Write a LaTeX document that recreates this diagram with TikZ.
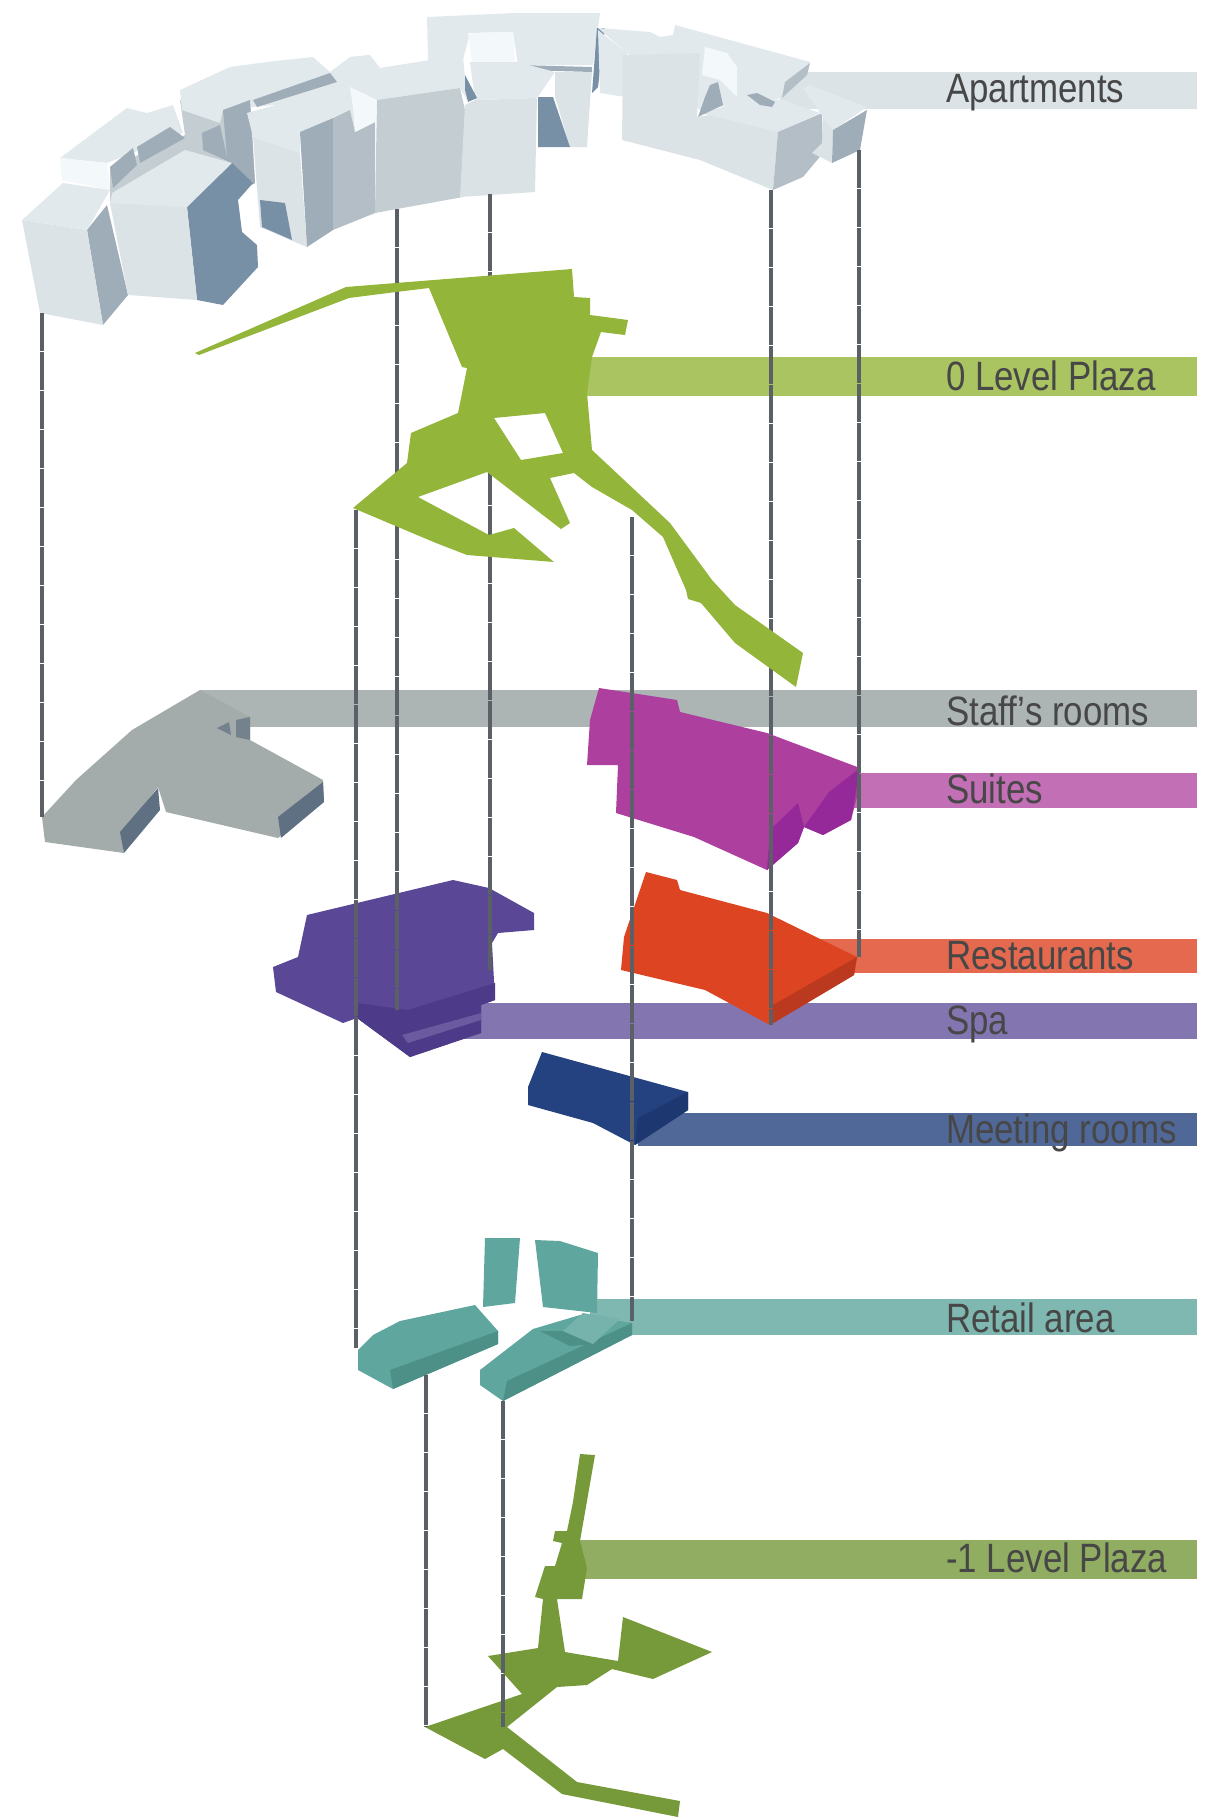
\documentclass[tikz,border=0pt]{standalone}
\usepackage{fontspec}
\setmainfont[FakeStretch=0.85]{Liberation Sans}
\definecolor{aptTop}{HTML}{E1E9ED}
\definecolor{aptFace}{HTML}{DCE3E6}
\definecolor{aptMid}{HTML}{C3CDD2}
\definecolor{aptGrey}{HTML}{B3BEC6}
\definecolor{aptShade}{HTML}{9FADB9}
\definecolor{aptDark}{HTML}{7890A6}
\definecolor{aptGlow}{HTML}{F3F8FA}
\definecolor{plazaTop}{HTML}{93B53A}
\definecolor{plazaLow}{HTML}{76993A}
\definecolor{staffTop}{HTML}{A3ACAB}
\definecolor{staffSide}{HTML}{5F7082}
\definecolor{suiteTop}{HTML}{AD3F9E}
\definecolor{suiteSide}{HTML}{96299A}
\definecolor{restTop}{HTML}{DD4422}
\definecolor{restSide}{HTML}{BB3A1F}
\definecolor{spaTop}{HTML}{5A4795}
\definecolor{spaSide}{HTML}{4D3A88}
\definecolor{meetTop}{HTML}{24427F}
\definecolor{meetSide}{HTML}{1D3870}
\definecolor{retailTop}{HTML}{5FA69E}
\definecolor{retailSide}{HTML}{4D9088}
\definecolor{riserGrey}{HTML}{5B5F66}
\begin{document}
\begin{tikzpicture}[x=1pt, y=-1pt,
    tag/.style={anchor=base west, inner sep=0pt, text=black!72, font=\fontsize{41}{41}\selectfont},
    riser/.style={draw=riserGrey, line width=3.5pt, dash pattern=on 38pt off 1pt}]
    \useasboundingbox (0,0) rectangle (1208,1820);

    % Bandes
    \fill[aptFace] (780,72) rectangle (1197,109);
    \fill[plazaTop!80!white] (580,357) rectangle (1197,396);
    \fill[staffTop!90!white] (200,690) rectangle (1197,727);
    \fill[suiteTop!75!white] (820,773) rectangle (1197,808);
    \fill[restTop!80!white] (800,939) rectangle (1197,973);
    \fill[spaTop!75!white] (447,1003) rectangle (1197,1039);
    \fill[meetTop!80!white] (638,1113) rectangle (1197,1146);
    \fill[retailTop!80!white] (590,1299) rectangle (1197,1335);
    \fill[plazaLow!80!white] (575,1540) rectangle (1197,1579);

    % Apartments, centre arriere
    \fill[aptTop] (427,17) -- (515,13) -- (600,13) -- (593,65) -- (518,65) -- (513,32) -- (470,33) -- (463,60) -- (428,60) -- cycle;
    \fill[aptGlow] (468,33) -- (513,32) -- (515,62) -- (472,62) -- cycle;
    \fill[aptDark] (597,28) -- (605,28) -- (598,87) -- (592,93) -- cycle;
    \fill[aptShade] (518,65) -- (592,67) -- (592,72) -- (520,70) -- cycle;
    \fill[aptFace] (555,72) -- (592,72) -- (587,147) -- (570,147) -- (555,97) -- cycle;
    \fill[aptDark] (538,97) -- (553,97) -- (570,147) -- (538,147) -- cycle;

    % Apartments, droite
    \fill[aptTop] (598,30) -- (627,53) -- (625,97) -- (600,93) -- cycle;
    \fill[aptTop] (598,28) -- (650,32) -- (660,37) -- (673,35) -- (675,25) -- (810,62) -- (807,75) -- (782,98) -- (700,110) -- (627,53) -- cycle;
    \fill[aptGrey] (785,82) -- (810,63) -- (807,75) -- (782,98) -- cycle;
    \fill[aptFace] (623,55) -- (700,53) -- (697,117) -- (743,110) -- (778,132) -- (773,190) -- (700,160) -- (622,140) -- cycle;
    \fill[aptGlow] (705,47) -- (727,53) -- (737,67) -- (737,97) -- (720,80) -- (702,75) -- cycle;
    \fill[aptTop] (700,113) -- (723,107) -- (747,97) -- (783,100) -- (820,113) -- (778,132) -- cycle;
    \fill[aptShade] (710,85) -- (718,82) -- (723,105) -- (698,117) -- (705,97) -- cycle;
    \fill[aptShade] (747,95) -- (757,93) -- (775,102) -- (772,107) -- (760,105) -- cycle;
    \fill[aptGrey] (778,132) -- (822,113) -- (823,153) -- (803,177) -- (773,190) -- cycle;
    \fill[aptTop] (803,88) -- (810,85) -- (867,107) -- (833,130) -- (823,117) -- cycle;
    \fill[aptFace] (823,117) -- (833,130) -- (832,163) -- (812,153) -- (822,143) -- cycle;
    \fill[aptShade] (833,130) -- (867,110) -- (860,150) -- (832,163) -- cycle;

    % Apartments, gauche
    \fill[aptMid] (110,167) -- (185,135) -- (180,100) -- (250,100) -- (255,183) -- (232,195) -- (187,207) -- (110,203) -- cycle;
    \fill[aptTop] (180,90) -- (230,67) -- (267,62) -- (313,57) -- (330,72) -- (350,57) -- (370,55) -- (350,98) -- (253,107) -- (223,110) -- (220,123) -- (182,110) -- cycle;
    \fill[aptShade] (253,100) -- (330,73) -- (337,82) -- (257,107) -- cycle;
    \fill[aptGrey] (332,92) -- (350,88) -- (350,98) -- (333,98) -- cycle;
    \fill[aptShade] (223,110) -- (250,100) -- (255,183) -- (232,195) -- (227,157) -- cycle;
    \fill[aptShade] (202,133) -- (220,125) -- (227,157) -- (232,163) -- (203,150) -- cycle;
    \fill[aptTop] (60,158) -- (127,108) -- (147,113) -- (173,105) -- (183,133) -- (107,163) -- cycle;
    \fill[aptGlow] (60,158) -- (107,163) -- (110,190) -- (62,180) -- cycle;
    \fill[aptShade] (110,167) -- (133,148) -- (137,165) -- (113,188) -- cycle;
    \fill[aptShade] (137,147) -- (170,127) -- (185,138) -- (140,163) -- cycle;

    % Apartments, long corps
    \fill[aptTop] (247,113) -- (330,90) -- (353,70) -- (352,57) -- (370,55) -- (380,68) -- (430,60) -- (463,57) -- (467,100) -- (460,88) -- (377,100) -- (375,122) -- (355,132) -- (350,110) -- (300,132) -- (300,153) -- (253,137) -- cycle;
    \fill[aptFace] (253,137) -- (300,153) -- (307,247) -- (290,240) -- (260,227) -- cycle;
    \fill[aptDark] (260,200) -- (285,203) -- (292,240) -- (262,227) -- cycle;
    \fill[aptShade] (300,132) -- (333,118) -- (333,230) -- (307,247) -- cycle;
    \fill[aptGrey] (333,118) -- (350,110) -- (355,132) -- (375,122) -- (375,213) -- (333,230) -- cycle;
    \fill[aptMid] (377,100) -- (460,88) -- (465,110) -- (463,197) -- (375,213) -- cycle;
    \fill[aptFace!95!aptMid] (465,105) -- (475,100) -- (537,98) -- (535,192) -- (460,197) -- cycle;
    \fill[aptTop] (470,62) -- (517,62) -- (555,72) -- (537,98) -- (475,100) -- cycle;
    \fill[aptDark] (465,75) -- (477,98) -- (468,102) -- (465,90) -- cycle;
    \fill[aptGlow] (350,87) -- (377,100) -- (375,122) -- (355,132) -- (353,107) -- cycle;

    % Apartments, tours avant
    \fill[aptShade] (87,230) -- (107,205) -- (128,295) -- (103,325) -- cycle;
    \fill[aptFace] (22,220) -- (87,230) -- (103,325) -- (40,313) -- cycle;
    \fill[aptTop] (22,220) -- (63,183) -- (110,190) -- (87,230) -- cycle;
    \fill[aptDark] (187,207) -- (232,163) -- (253,183) -- (238,200) -- (242,232) -- (257,245) -- (258,267) -- (223,305) -- (197,300) -- cycle;
    \fill[aptFace] (110,203) -- (187,207) -- (197,300) -- (128,295) -- cycle;
    \fill[aptTop] (110,203) -- (112,193) -- (185,150) -- (232,163) -- (187,207) -- cycle;

    % Staff's rooms
    \fill[staffTop] (200,690) -- (250,717) -- (250,740) -- (323,780) -- (324,802) -- (278,838) -- (166,812) -- (158,787) -- (121,833) -- (124,853) -- (45,842) -- (42,817) -- (76,780) -- (132,730) -- cycle;
    \fill[staffSide] (323,782) -- (324,802) -- (281,838) -- (278,817) -- cycle;
    \fill[staffSide] (158,788) -- (160,810) -- (124,853) -- (120,832) -- cycle;
    \fill[staffSide!70!staffTop] (217,728) -- (229,722) -- (231,735) -- cycle;
    \fill[staffSide!70!staffTop] (236,720) -- (250,717) -- (250,740) -- (236,737) -- cycle;

    % Suites
    \fill[suiteTop] (599,688) -- (677,700) -- (680,712) -- (767,733) -- (860,768) -- (857,797) -- (851,820) -- (823,835) -- (804,827) -- (798,843) -- (767,870) -- (694,837) -- (616,813) -- (618,765) -- (587,765) -- (590,720) -- cycle;
    \fill[suiteSide] (829,792) -- (860,768) -- (851,820) -- (823,835) -- (804,827) -- cycle;
    \fill[suiteSide] (770,830) -- (798,803) -- (804,827) -- (798,843) -- (767,870) -- cycle;

    % Restaurants
    \fill[restTop] (646,872) -- (677,880) -- (680,890) -- (767,913) -- (857,957) -- (854,975) -- (770,1025) -- (705,990) -- (621,970) -- (624,937) -- cycle;
    \fill[restSide] (857,957) -- (854,975) -- (770,1025) -- (773,1005) -- cycle;

    % Spa
    \fill[spaTop] (453,880) -- (489,888) -- (534,913) -- (534,930) -- (498,933) -- (492,943) -- (495,1000) -- (481,1005) -- (481,1033) -- (410,1057) -- (357,1018) -- (343,1023) -- (276,992) -- (273,967) -- (298,957) -- (307,915) -- cycle;
    \fill[spaSide] (408,1010) -- (495,983) -- (495,1000) -- (481,1005) -- (481,1033) -- (410,1057) -- (357,1018) -- (357,1003) -- cycle;
    \fill[spaTop!90!white] (402,1035) -- (481,1013) -- (481,1020) -- (408,1043) -- cycle;

    % Meeting rooms
    \fill[meetTop] (542,1052) -- (688,1092) -- (688,1110) -- (635,1145) -- (593,1123) -- (528,1105) -- (528,1087) -- cycle;
    \fill[meetSide] (688,1092) -- (688,1110) -- (635,1145) -- (638,1118) -- cycle;

    % Retail area
    \fill[retailTop] (485,1238) -- (520,1238) -- (515,1303) -- (483,1307) -- cycle;
    \fill[retailTop] (535,1240) -- (560,1241) -- (598,1253) -- (597,1313) -- (543,1307) -- cycle;
    \fill[retailTop] (358,1350) -- (373,1335) -- (400,1321) -- (475,1305) -- (498,1331) -- (498,1344) -- (393,1389) -- (358,1370) -- cycle;
    \fill[retailSide] (390,1370) -- (498,1331) -- (498,1344) -- (393,1389) -- cycle;
    \fill[retailTop] (480,1370) -- (533,1329) -- (580,1315) -- (632,1323) -- (632,1335) -- (503,1401) -- (480,1385) -- cycle;
    \fill[retailSide] (507,1381) -- (632,1323) -- (632,1335) -- (503,1401) -- cycle;
    \fill[retailSide] (540,1331) -- (563,1331) -- (593,1344) -- (570,1346) -- cycle;
    \fill[retailTop!85!white] (563,1331) -- (583,1313) -- (620,1319) -- (593,1344) -- cycle;

    % -1 Level Plaza
    \fill[plazaLow] (580,1454) -- (595,1455) -- (580,1541) -- (587,1568) -- (582,1599) -- (557,1599) -- (565,1652) -- (618,1661) -- (623,1617) -- (712,1652) -- (653,1679) -- (612,1669) -- (587,1685) -- (557,1687) -- (507,1727) -- (577,1782) -- (680,1801) -- (678,1817) -- (562,1794) -- (503,1749) -- (485,1759) -- (425,1727) -- (522,1694) -- (488,1656) -- (538,1648) -- (543,1599) -- (535,1597) -- (545,1566) -- (555,1566) -- (562,1543) -- (553,1541) -- (555,1531) -- (567,1531) -- (573,1502) -- cycle;

    % Verticales
    \draw[riser] (42,313) -- (42,817);
    \draw[riser] (397,209) -- (397,1010);
    \draw[riser] (490,194) -- (490,970);
    \draw[riser] (771,190) -- (771,1025);
    \draw[riser] (859,150) -- (859,957);
    \draw[riser] (356,510) -- (356,1348);
    \draw[riser] (632,517) -- (632,1321);
    \draw[riser] (426,1375) -- (426,1727);
    \draw[riser] (503,1401) -- (503,1727);

    % 0 Level Plaza
    \fill[plazaTop, even odd rule] (195,353) -- (346,287) -- (396,283) -- (572,269) -- (574,297) -- (590,298) -- (590,315) -- (628,320) -- (625,335) -- (601,332) -- (592,357) -- (587,393) -- (592,450) -- (670,523) -- (712,580) -- (735,605) -- (803,653) -- (796,687) -- (735,643) -- (701,603) -- (688,599) -- (686,590) -- (663,537) -- (632,510) -- (592,487) -- (574,473) -- (550,478) -- (570,523) -- (561,529) -- (487,472) -- (418,497) -- (489,535) -- (514,528) -- (554,562) -- (467,555) -- (436,543) -- (353,508) -- (407,463) -- (411,433) -- (458,413) -- (467,368) -- (462,367) -- (429,288) -- (396,292) -- (349,298) -- (199,355) -- cycle
        (494,418) -- (545,413) -- (563,453) -- (521,460) -- cycle;

    % Textes
    \node[tag] (apartments) at (946,102) {Apartments};
    \node[tag] (plazazero) at (946,390) {0 Level Plaza};
    \node[tag] (staff) at (946,725) {Staff's rooms};
    \node[tag] (suites) at (946,803) {Suites};
    \node[tag] (restaurants) at (946,969) {Restaurants};
    \node[tag] (spa) at (946,1034) {Spa};
    \node[tag] (meeting) at (946,1143) {Meeting rooms};
    \node[tag] (retail) at (946,1332) {Retail area};
    \node[tag] (plazaminus) at (946,1572) {-1 Level Plaza};
\end{tikzpicture}
\end{document}
